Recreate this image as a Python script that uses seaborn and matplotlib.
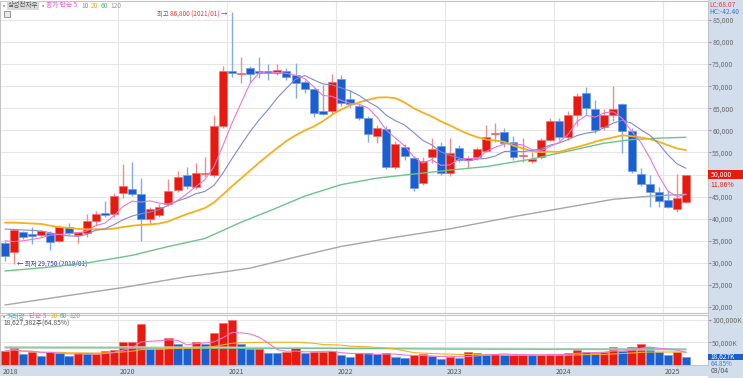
import matplotlib
matplotlib.use("Agg")
import numpy as np
import pandas as pd
import matplotlib.pyplot as plt
import matplotlib.transforms as mtransforms
from matplotlib.patches import Rectangle
import seaborn as sns

# monthly candles, Dec 2018 .. Mar 2025 (삼성전자우)
months = pd.period_range("2018-12", "2025-03", freq="M")

opens = [34400, 32500, 37000, 36600, 36350, 36750, 34900, 38200, 36300, 36800, 39550, 41350,
         41050, 45750, 46650, 45600, 39950, 40850, 43250, 46500, 49800, 47250, 50200, 49900,
         61000, 73500, 72800, 74050, 73500, 73400, 73050, 73500, 72450, 71050, 69300, 64400,
         64400, 71550, 67100, 65600, 62850, 58750, 60250, 51650, 56150, 53800, 48150, 53900,
         56550, 50400, 55950, 53300, 54050, 55350, 59200, 59700, 57300, 54150, 53150, 53900,
         57800, 62100, 58450, 63500, 68400, 64850, 60700, 63500, 65950, 59850, 50050, 47850,
         46100, 44250, 42100, 43850]
highs = [35000, 37700, 37300, 38200, 37450, 37300, 38500, 39100, 37000, 41000, 41750, 44000,
         45900, 52400, 52900, 49150, 42700, 43300, 48900, 50850, 51750, 52550, 54000, 63500,
         74650, 86800, 76600, 74500, 76550, 75050, 75050, 74050, 75350, 71400, 69500, 70300,
         72750, 72550, 69150, 66000, 63300, 61200, 61000, 57500, 56800, 54200, 54050, 58200,
         57450, 58200, 56700, 54200, 56300, 61200, 61600, 60450, 58750, 58200, 55200, 58200,
         62700, 62750, 64450, 68400, 69900, 66900, 64750, 70100, 66300, 60500, 51400, 49900,
         47250, 46500, 50050, 50000]
lows = [30500, 29750, 35300, 34200, 35900, 32900, 34700, 36300, 34400, 35900, 38350, 40450,
        40450, 44600, 45100, 34950, 38550, 40300, 42800, 46000, 46800, 46700, 49500, 49500,
        60500, 72150, 70800, 71000, 71800, 71400, 72550, 71400, 67400, 68400, 62950, 63400,
        63800, 65500, 65000, 62350, 57450, 57200, 51300, 51200, 53300, 46250, 47600, 52550,
        50000, 49750, 52800, 51400, 53300, 55000, 57450, 56300, 53300, 52900, 52600, 53500,
        57500, 57800, 57800, 61050, 63500, 59500, 60000, 62200, 54800, 50400, 47300, 42600,
        42700, 42400, 41450, 43600]
closes = [31600, 37450, 35900, 36150, 37200, 34700, 38200, 36800, 36900, 39450, 41000, 40750,
          45200, 47400, 45500, 39950, 42100, 42700, 46350, 49350, 47400, 50450, 50400, 61000,
          73500, 72950, 73100, 72850, 73050, 72950, 73700, 72000, 70650, 69300, 63850, 63700,
          71050, 66150, 65900, 62850, 59200, 60450, 51750, 56900, 54250, 46900, 53150, 55700,
          50400, 54800, 53300, 53800, 55700, 58550, 59500, 57200, 53900, 54400, 53450, 57800,
          62100, 58550, 63500, 67850, 65000, 60100, 63500, 64750, 59850, 50800, 47850, 45950,
          44050, 42700, 44700, 50000]
# volume, thousand shares
volumes_k = [30760, 36900, 24600, 29200, 19200, 29200, 27700, 19200, 26900, 24600, 24900, 30760,
             33100, 50800, 51500, 90000, 38450, 38800, 60750, 46100, 40800, 50000, 47700, 71500,
             92300, 99200, 46900, 34600, 34900, 27700, 26100, 29200, 36900, 26100, 29200, 29500,
             30760, 21500, 17700, 27700, 26100, 23800, 26150, 17700, 16150, 21530, 24600, 19200,
             13070, 18450, 15380, 28450, 26150, 23070, 23840, 21530, 23070, 23300, 21530, 23070,
             23840, 24600, 26900, 32300, 28450, 26150, 28450, 40760, 30760, 39200, 46900, 40760,
             28450, 21530, 28725, 18627.382]

# moving-average values that depend on months before the chart
ma5_head = [35000, 34800, 35000, 35300]
ma10_head = [37650, 37550, 37450, 37350, 37200, 36800, 36400, 36100, 36000]
ma20_head = [39100, 39100, 39000, 38900, 38800, 38400, 38100, 37900, 37700, 37600,
             37600, 37600, 37750, 38100, 38400, 38600, 38700, 38900, 39400]
ma60_idx = [0, 5, 9, 14, 18, 22, 26, 30, 33, 37, 41, 45, 49, 53, 58, 62, 66, 69, 72, 75]
ma60_vals = [28150, 29050, 29950, 31700, 33700, 35500, 39200, 42500, 45100, 47700, 49200,
             50100, 51000, 51800, 53500, 55300, 57100, 57900, 58250, 58430]
ma120_idx = [0, 7, 13, 20, 24, 27, 32, 37, 43, 49, 56, 62, 67, 71, 75]
ma120_vals = [20450, 22600, 24400, 26850, 27900, 28800, 31300, 33700, 35800, 37700, 40450,
              42600, 44390, 45100, 45520]
vol_ma60_idx = [0, 12, 24, 36, 48, 60, 75]
vol_ma60_vals = [38000, 38000, 37000, 37000, 35500, 35000, 35500]
vol_ma120_idx = [0, 24, 48, 75]
vol_ma120_vals = [40000, 38500, 37000, 34000]

year_labels = ["2018", "2020", "2021", "2022", "2023", "2024", "2025"]
price_ticks = list(range(20000, 90000, 5000))
vol_ticks = [50000, 100000]

RED, BLUE = "#e8190f", "#1a5fd0"
RED_W, BLUE_W = "#f08c8c", "#86aae6"
PANEL = "#d3deec"
GRID = "#e6e6e6"

sns.set_theme(style="white")
plt.rcParams["font.family"] = ["Noto Sans CJK KR", "DejaVu Sans"]

W, H = 743, 378
fig = plt.figure(figsize=(W / 100, H / 100), dpi=100)
fig.patch.set_facecolor("white")

def fx(px):
    return px / W

def fy(py):
    return 1 - py / H

# side and bottom bands (behind the axes and their labels)
fig.patches.append(Rectangle((fx(708), 0), fx(35), 1, transform=fig.transFigure,
                             facecolor=PANEL, edgecolor="none", zorder=-2))
fig.patches.append(Rectangle((0, fy(376)), fx(708), 11 / H, transform=fig.transFigure,
                             facecolor=PANEL, edgecolor="none", zorder=-2))

ax = fig.add_axes([0, fy(313), fx(708), 312 / H])
axv = fig.add_axes([0, fy(365), fx(708), 50 / H], sharex=ax)

df = pd.DataFrame({"month": months.astype(str), "open": opens, "high": highs,
                   "low": lows, "close": closes, "volume": volumes_k})
df["x"] = np.arange(len(df))
up = df["close"] >= df["open"]

# moving averages
ma5 = df["close"].rolling(5).mean()
ma5.iloc[:len(ma5_head)] = ma5_head
ma10 = df["close"].rolling(10).mean()
ma10.iloc[:len(ma10_head)] = ma10_head
ma20 = df["close"].rolling(20).mean()
ma20.iloc[:len(ma20_head)] = ma20_head

# grid
boundaries = [12.5 + 12 * k for k in range(6)]
for b in boundaries:
    ax.axvline(b, color=GRID, lw=0.8, zorder=0)
    axv.axvline(b, color=GRID, lw=0.8, zorder=0)
for p in price_ticks:
    ax.axhline(p, color=GRID, lw=0.8, zorder=0)
for v in vol_ticks:
    axv.axhline(v, color=GRID, lw=0.8, zorder=0)

# candles
body_h = (df["close"] - df["open"]).abs().clip(lower=250)
body_b = df[["open", "close"]].min(axis=1)
ax.vlines(df["x"], df["low"], df["high"], colors=np.where(up, RED_W, BLUE_W), lw=1.0, zorder=2)
ax.bar(df["x"], body_h, bottom=body_b, width=0.88, color=np.where(up, RED, BLUE),
       edgecolor=np.where(up, "#f27070", "#6f9be6"), linewidth=0.5, zorder=3)

# MA lines
x_all = df["x"]
sns.lineplot(x=ma120_idx, y=ma120_vals, ax=ax, color="#a6a6a6", lw=1.0, zorder=4)
sns.lineplot(x=ma60_idx, y=ma60_vals, ax=ax, color="#6cc48a", lw=1.0, zorder=4)
sns.lineplot(x=x_all, y=ma20, ax=ax, color="#f5b01a", lw=1.3, zorder=4)
sns.lineplot(x=x_all, y=ma10, ax=ax, color="#8088dc", lw=0.8, zorder=5)
sns.lineplot(x=x_all, y=ma5, ax=ax, color="#f075d6", lw=0.8, zorder=5)

ax.set_xlim(-0.55, 77.42)
ax.set_ylim(18635, 89300)

# volume
vol_up = df["volume"] >= df["volume"].shift(1).fillna(0)
axv.bar(df["x"], df["volume"], width=0.9, color=np.where(vol_up, RED, BLUE),
        edgecolor=np.where(vol_up, "#f27070", "#6f9be6"), linewidth=0.5, zorder=2)
vma5 = df["volume"].rolling(5, min_periods=1).mean()
vma20 = df["volume"].rolling(20, min_periods=1).mean()
sns.lineplot(x=vol_ma120_idx, y=vol_ma120_vals, ax=axv, color="#c9dcc9", lw=1.6, zorder=3)
sns.lineplot(x=vol_ma60_idx, y=vol_ma60_vals, ax=axv, color="#6cc48a", lw=0.8, zorder=3)
sns.lineplot(x=x_all, y=vma20, ax=axv, color="#f5b01a", lw=0.8, zorder=3)
sns.lineplot(x=x_all, y=vma5, ax=axv, color="#f075d6", lw=0.8, zorder=3)
axv.set_ylim(0, 111000)

for a in (ax, axv):
    a.set_xlabel("")
    a.set_ylabel("")
    a.set_facecolor("white")
    for s in a.spines.values():
        s.set_color("#c4c4c4")
        s.set_linewidth(0.8)
    a.yaxis.tick_right()
    a.tick_params(axis="y", direction="out", length=2, width=0.6, color="#888888",
                  pad=1, labelsize=5, labelcolor="#6b6b6b")
    a.tick_params(axis="x", bottom=False, labelbottom=False)

ax.set_yticks(price_ticks)
ax.set_yticklabels([f"{p:,}" for p in price_ticks])
axv.set_yticks(vol_ticks)
axv.set_yticklabels([f"{v:,}K" for v in vol_ticks])

# year labels in bottom band
xt = axv.get_xaxis_transform()
label_pos = [-0.45] + boundaries
for lab, xp in zip(year_labels, label_pos):
    axv.text(xp + 0.15, -0.13, lab, transform=xt, fontsize=5, color="#555555",
             ha="left", va="center", clip_on=False)
fig.text(fx(711), fy(371), months[-1].strftime("%m") + "/04", fontsize=5, color="#555555",
         va="center")

# current price box
last = df.iloc[-1]
prev_close = df["close"].iloc[-2]
chg = (last["close"] / prev_close - 1) * 100
bt = mtransforms.blended_transform_factory(ax.transAxes, ax.transData)
ax.add_patch(Rectangle((1.0, last["close"] - 1000), 0.05, 2000, transform=bt,
                       facecolor=RED, edgecolor="none", clip_on=False, zorder=6))
ax.text(1.004, last["close"], f"{int(last['close']):,}", transform=bt, fontsize=5,
        color="white", va="center", ha="left", clip_on=False, zorder=7)
ax.text(1.004, last["close"] - 2300, f"{chg:.2f}%", transform=bt, fontsize=5,
        color=RED, va="center", ha="left", clip_on=False)

# current volume box
vprev = df["volume"].iloc[-2]
vratio = last["volume"] / vprev * 100
bv = mtransforms.blended_transform_factory(axv.transAxes, axv.transData)
axv.add_patch(Rectangle((1.0, last["volume"] - 6500), 0.05, 13000, transform=bv,
                        facecolor=BLUE, edgecolor="none", clip_on=False, zorder=6))
axv.text(1.004, last["volume"], f"{int(last['volume']):,}K", transform=bv, fontsize=4.8,
         color="white", va="center", ha="left", clip_on=False, zorder=7)
axv.text(1.004, last["volume"] - 15500, f"{vratio:.2f}%", transform=bv, fontsize=4.6,
         color="#3b7be0", va="center", ha="left", clip_on=False)

# high / low notes
ih = int(df["high"].idxmax())
il = int(df["low"].idxmin())
ax.annotate(f"최고 {df['high'][ih]:,} ({months[ih].strftime('%Y/%m')}) →",
            xy=(ih, df["high"][ih]), xytext=(-3.5, -1), textcoords="offset points",
            ha="right", va="center", fontsize=4.6, color="#f03030")
ax.annotate(f"← 최저 {df['low'][il]:,} ({months[il].strftime('%Y/%m')})",
            xy=(il, df["low"][il]), xytext=(2, 0.5), textcoords="offset points",
            ha="left", va="center", fontsize=4.6, color="#3030e0")

# header legends
fig.text(fx(709), fy(5), "LC:68.07", fontsize=4.8, color="#e04040", va="center")
fig.text(fx(709), fy(12), "HC:-42.40", fontsize=4.8, color="#3b70d8", va="center")

fig.text(fx(1), fy(5.5), "▪", fontsize=4.5, color="#999999", va="center")
fig.text(fx(7.5), fy(5.5), "삼성전자우", fontsize=4.8, color="#555555", va="center",
         bbox=dict(facecolor="#d9d9d9", edgecolor="none", pad=0.6))
fig.text(fx(40), fy(5.5), "▪", fontsize=4.5, color="#999999", va="center")
fig.text(fx(46), fy(5.5), "종가 단순 5", fontsize=4.8, color="#f060d0", va="center")
fig.text(fx(81), fy(5.5), "10", fontsize=4.8, color="#8088dc", va="center")
fig.text(fx(91), fy(5.5), "20", fontsize=4.8, color="#f0b020", va="center")
fig.text(fx(100.5), fy(5.5), "60", fontsize=4.8, color="#50b878", va="center")
fig.text(fx(110), fy(5.5), "120", fontsize=4.8, color="#9a9a9a", va="center")
fig.patches.append(Rectangle((fx(4), fy(17)), fx(6), 6 / H, transform=fig.transFigure,
                             facecolor="#e8e8e8", edgecolor="#888888", lw=0.6, zorder=5))

fig.text(fx(1), fy(316.5), "▪", fontsize=4.5, color="#999999", va="center")
fig.text(fx(7), fy(316.5), "거래량", fontsize=4.8, color="#40a8a8", va="center")
fig.text(fx(29), fy(316.5), "단순 5", fontsize=4.8, color="#f060d0", va="center")
fig.text(fx(51), fy(316.5), "20", fontsize=4.8, color="#f0b020", va="center")
fig.text(fx(60), fy(316.5), "60", fontsize=4.8, color="#50b878", va="center")
fig.text(fx(69.5), fy(316.5), "120", fontsize=4.8, color="#9a9a9a", va="center")
fig.text(fx(3), fy(324), f"{int(round(last['volume'] * 1000)):,}주({vratio:.2f}%)",
         fontsize=4.8, color="#555555", va="center")

fig.savefig("out.png", dpi=100, facecolor="white")
